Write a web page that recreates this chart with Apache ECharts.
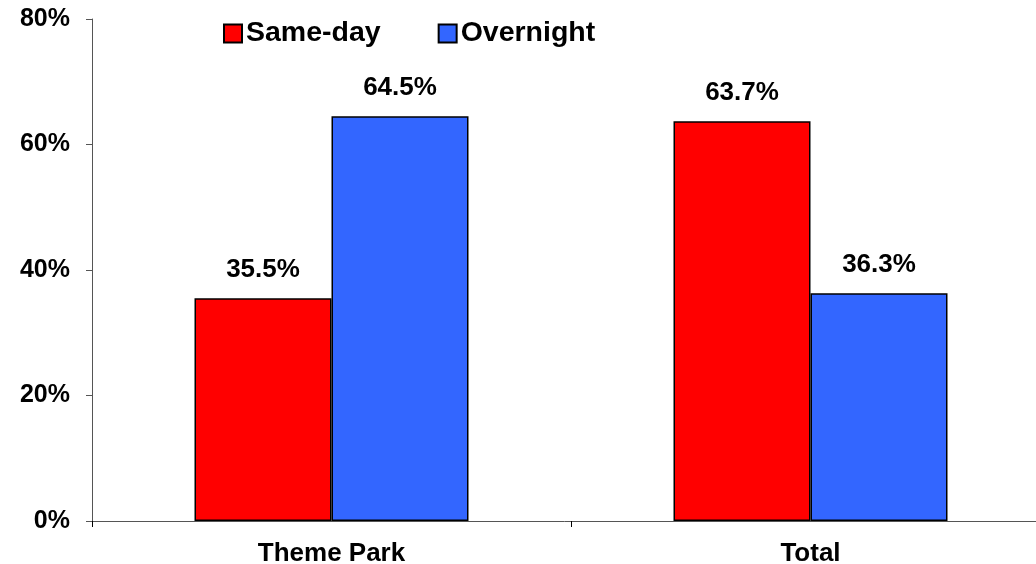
<!DOCTYPE html>
<html>
<head>
<meta charset="utf-8">
<script src="https://cdn.jsdelivr.net/npm/echarts@6/dist/echarts.min.js"></script>
<style>
  html, body { margin: 0; padding: 0; background: #fff; }
  #chart { width: 1036px; height: 564px; }
</style>
</head>
<body>
<div id="chart"></div>
<script>
// Share of visitors by trip type
const categories = ['Theme Park', 'Total'];
const sameDay = [35.5, 63.7];
const overnight = [64.5, 36.3];
const yTicks = [0, 20, 40, 60, 80];

const FONT = "'Liberation Sans', Arial, sans-serif";
const AXIS_COLOR = '#555';

const chart = echarts.init(document.getElementById('chart'), null, { renderer: 'canvas' });

const labelStyle = {
  show: true,
  position: 'top',
  distance: 15,
  formatter: p => p.value.toFixed(1) + '%',
  fontFamily: FONT,
  fontWeight: 'bold',
  fontSize: 26,
  color: '#000'
};

chart.setOption({
  animation: false,
  backgroundColor: '#fff',
  textStyle: { fontFamily: FONT },
  legend: {
    top: 14,
    left: 218,
    itemWidth: 18,
    itemHeight: 18,
    itemGap: 57,
    icon: 'rect',
    textStyle: { fontFamily: FONT, fontWeight: 'bold', fontSize: 28.5, color: '#000', padding: [0, 0, 0, -1] },
    data: ['Same-day', 'Overnight']
  },
  // plot area runs slightly past the right edge of the canvas
  grid: { left: 92, top: 19, bottom: 43, width: 958, containLabel: false, outerBoundsMode: 'none' },
  xAxis: {
    type: 'category',
    data: categories,
    axisLine: { lineStyle: { color: AXIS_COLOR, width: 1 } },
    axisTick: { show: true, length: 6, lineStyle: { color: '#000' } },
    axisLabel: { fontFamily: FONT, fontWeight: 'bold', fontSize: 26, color: '#000', margin: 20 }
  },
  yAxis: {
    type: 'value',
    min: yTicks[0],
    max: yTicks[yTicks.length - 1],
    interval: yTicks[1] - yTicks[0],
    splitLine: { show: false },
    axisLine: { show: true, lineStyle: { color: AXIS_COLOR, width: 1 } },
    axisTick: { show: true, length: 6, lineStyle: { color: AXIS_COLOR } },
    axisLabel: {
      formatter: '{value}%',
      fontFamily: FONT, fontWeight: 'bold', fontSize: 25, color: '#000', margin: 22,
      padding: [4, 0, 0, 0]
    }
  },
  series: [
    {
      name: 'Same-day',
      type: 'bar',
      data: sameDay,
      barWidth: 137,
      barGap: '0%',
      itemStyle: { color: '#FF0000', borderColor: '#000', borderWidth: 1.5 },
      label: labelStyle
    },
    {
      name: 'Overnight',
      type: 'bar',
      data: overnight,
      barWidth: 137,
      barGap: '0%',
      itemStyle: { color: '#3366FF', borderColor: '#000', borderWidth: 1.5 },
      label: labelStyle
    }
  ]
});
</script>
</body>
</html>
